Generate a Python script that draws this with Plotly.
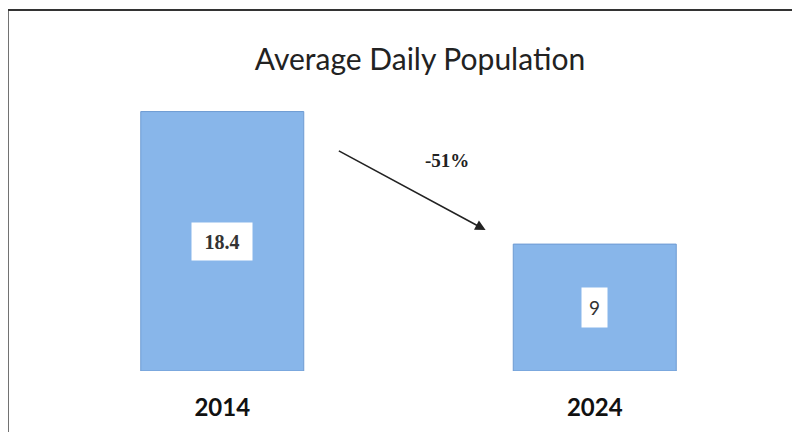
import plotly.graph_objects as go

years = ["2014", "2024"]
values = [18.4, 9]
value_labels = ["18.4", "9"]
change_label = "-51%"
title = "Average Daily Population"

fig = go.Figure()
fig.add_trace(go.Bar(
    x=years, y=values, width=0.4376,
    marker=dict(color="#88b6ea", line=dict(color="#6e9bd2", width=1)),
    hoverinfo="skip",
))

fonts = ["Liberation Serif", "Lato"]
box_w = [60, 25]
box_h = [37, 39]
for i, (v, lab) in enumerate(zip(values, value_labels)):
    txt = "<b>" + lab + "</b>" if i == 0 else lab
    fig.add_annotation(
        x=i, y=v / 2, xref="x", yref="y", text=txt, showarrow=False,
        font=dict(family=fonts[i], size=20 if i == 0 else 19, color="#333333"),
        bgcolor="white", borderpad=0, width=box_w[i], height=box_h[i],
    )

# arrow showing the change
fig.add_annotation(
    x=0.707, y=10.0, ax=0.309, ay=15.67, xref="x", yref="y", axref="x", ayref="y",
    text="", showarrow=True, arrowhead=2, arrowsize=1.3, arrowwidth=1.6, arrowcolor="#222222",
)
fig.add_annotation(
    x=0.602, y=14.96, xref="x", yref="y", text="<b>" + change_label + "</b>", showarrow=False,
    font=dict(family="Liberation Serif", size=19, color="#222222"),
)

# outer frame
fig.add_shape(type="rect", xref="paper", yref="paper", x0=-0.038, y0=-0.3, x1=1.1, y1=1.28,
              line=dict(color="#333333", width=2), layer="above")

fig.update_layout(
    width=800, height=432,
    margin=dict(l=28, r=27, t=81, b=69),
    paper_bgcolor="white", plot_bgcolor="white",
    showlegend=False,
    title=dict(text=title, x=0.515, xanchor="center", y=0.88, yanchor="middle",
               font=dict(family="Lato", size=30, color="#222222")),
    xaxis=dict(range=[-0.5, 1.5], showline=False, showgrid=False, ticks="",
               tickfont=dict(family="Lato", size=24, color="#111111", weight="bold"),
               ticklabelstandoff=20),
    yaxis=dict(range=[0, 20], visible=False),
)

fig.write_html("out.html")
